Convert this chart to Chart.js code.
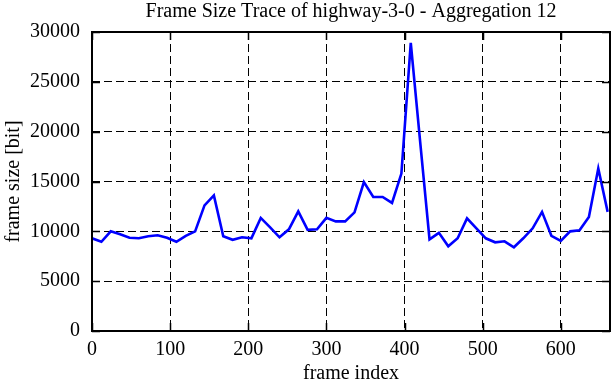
<!DOCTYPE html>
<html>
<head>
<meta charset="utf-8">
<script src="https://cdn.jsdelivr.net/npm/chart.js@4/dist/chart.umd.min.js"></script>
<style>
html,body{margin:0;padding:0;background:#fff;}
#wrap{width:612px;height:382px;}
</style>
</head>
<body>
<div id="wrap"><canvas id="c" width="612" height="382"></canvas></div>
<script>
const titleText = "Frame Size Trace of highway-3-0 - Aggregation 12";
const xTitle = "frame index";
const yTitle = "frame size [bit]";
const frameIndex = [0,12,24,36,48,60,72,84,96,108,120,132,144,156,168,180,192,204,216,228,240,252,264,276,288,300,312,324,336,348,360,372,384,396,408,420,432,444,456,468,480,492,504,516,528,540,552,564,576,588,600,612,624,636,648,660];
const frameSize = [9300,8950,10000,9700,9350,9300,9500,9600,9350,8950,9550,10000,12600,13600,9500,9150,9400,9300,11350,10400,9400,10200,12000,10150,10200,11350,11000,11000,11900,14950,13450,13450,12850,15800,28900,19000,9200,9850,8500,9300,11300,10300,9300,8900,9000,8400,9300,10300,11950,9550,9050,10000,10100,11450,16300,11950];
const xTicks = [0,100,200,300,400,500,600];
const yTicks = [0,5000,10000,15000,20000,25000,30000];
const xMax = 663;
const yMax = 30000;

const FONT = "'Liberation Serif','Times New Roman',serif";
const FS = 20;

const framePlugin = {
  id: 'frame',
  afterDraw(chart) {
    const {ctx, chartArea: a, scales} = chart;
    ctx.save();
    ctx.strokeStyle = '#000';
    ctx.lineWidth = 1.5;
    ctx.setLineDash([]);
    const tl = 8;
    ctx.beginPath();
    xTicks.forEach(v => {
      const px = Math.round(scales.x.getPixelForValue(v)) + 0.5;
      ctx.moveTo(px, a.bottom); ctx.lineTo(px, a.bottom - tl);
      ctx.moveTo(px, a.top); ctx.lineTo(px, a.top + tl);
    });
    yTicks.forEach(v => {
      const py = Math.round(scales.y.getPixelForValue(v)) + 0.5;
      ctx.moveTo(a.left, py); ctx.lineTo(a.left + tl, py);
      ctx.moveTo(a.right, py); ctx.lineTo(a.right - tl, py);
    });
    ctx.stroke();
    ctx.lineWidth = 2;
    ctx.strokeRect(a.left, a.top, a.right - a.left, a.bottom - a.top);
    ctx.fillStyle = '#000';
    ctx.font = FS + "px " + FONT;
    ctx.textAlign = 'center';
    ctx.textBaseline = 'middle';
    ctx.fillText(titleText, (a.left + a.right) / 2, 12);
    ctx.restore();
  }
};

new Chart(document.getElementById('c'), {
  type: 'line',
  data: {
    datasets: [{
      data: frameIndex.map((x, i) => ({x: x, y: frameSize[i]})),
      borderColor: '#0000ff',
      borderWidth: 2.6,
      pointRadius: 0,
      tension: 0,
      fill: false
    }]
  },
  options: {
    responsive: false,
    animation: false,
    devicePixelRatio: 1,
    layout: {padding: {top: 32, right: 2, left: 0, bottom: 0}},
    plugins: {legend: {display: false}, title: {display: false}, tooltip: {enabled: false}},
    scales: {
      x: {
        type: 'linear', min: 0, max: xMax,
        afterBuildTicks: s => { s.ticks = xTicks.map(v => ({value: v})); },
        afterFit: s => { s.height = 51; },
        grid: {color: '#000', lineWidth: 1, drawTicks: false},
        border: {display: false, dash: [8, 4]},
        ticks: {color: '#000', font: {family: FONT, size: FS}, padding: 7, maxRotation: 0, callback: v => String(v)},
        title: {display: true, text: xTitle, color: '#000', font: {family: FONT, size: FS, lineHeight: 0.8}, padding: 0}
      },
      y: {
        type: 'linear', min: 0, max: yMax,
        afterBuildTicks: s => { s.ticks = yTicks.map(v => ({value: v})); },
        afterFit: s => { s.width = 92; },
        grid: {color: '#000', lineWidth: 1, drawTicks: false},
        border: {display: false, dash: [8, 4]},
        ticks: {color: '#000', font: {family: FONT, size: FS}, padding: 12, callback: v => String(v)},
        title: {display: true, text: yTitle, color: '#000', font: {family: FONT, size: FS, lineHeight: 1.2}, padding: {top: 2, bottom: 0}}
      }
    }
  },
  plugins: [framePlugin]
});
</script>
</body>
</html>
